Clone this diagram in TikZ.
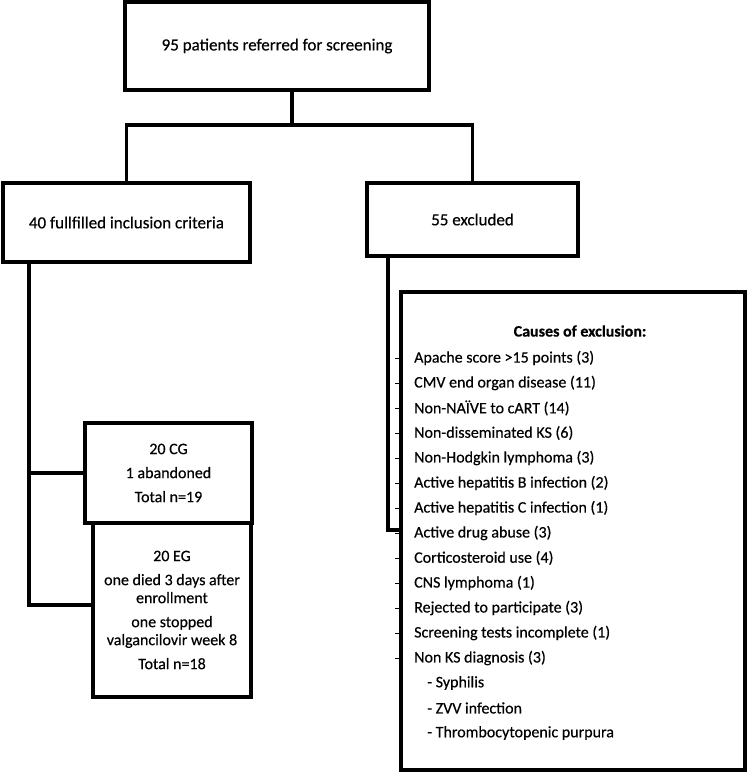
\documentclass[tikz,border=0pt]{standalone}
\usepackage{fontspec}
\setmainfont{Carlito}[FakeBold=0.4]
\usetikzlibrary{positioning}

\begin{document}
\begin{tikzpicture}[x=1pt,y=-1pt,font=\fontsize{17}{19}\selectfont]
    \tikzstyle{box}=[draw,line width=3.5pt,align=center,inner sep=0pt,fill=white]
    \tikzstyle{groupbox}=[box,font=\fontsize{16}{18}\selectfont]
    \tikzstyle{conn}=[draw,line width=3.5pt]
    \tikzstyle{item}=[anchor=west,inner sep=0pt,font=\fontsize{16}{18}\selectfont]
    \tikzstyle{tick}=[draw,line width=1pt]

    \useasboundingbox (0,0) rectangle (750,775);

    % boxes
    \node[box,minimum width=304pt,minimum height=88pt] (top) at (277,46) {95 patients referred for screening};
    \node[box,minimum width=247pt,minimum height=79pt] (incl) at (126.5,222.5) {40 fullfilled inclusion criteria};
    \node[box,minimum width=211pt,minimum height=73pt] (excl) at (472.5,219.5) {55 excluded};
    \node[groupbox,minimum width=167pt,minimum height=100pt] (cg) at (168.5,473) {20 CG\\[6pt] 1 abandoned\\[6pt] Total n=19};
    \node[groupbox,minimum width=158pt,minimum height=174pt] (eg) at (172,610) {20 EG\\[6pt] one died 3 days after\\ enrollment\\[6pt] one stopped\\ valgancilovir week 8\\[6pt] Total n=18};
    \node[box,minimum width=344pt,minimum height=478pt] (causes) at (573,531) {};

    % connectors
    \coordinate (split) at (292,125);
    \coordinate (inclfoot) at (29,605);
    \coordinate (exclfoot) at (388,530);
    \path[conn] (top.south -| split) -- (split);
    \path[conn] (incl.north) |- (split) -| (excl.north);
    \path[conn] (incl.south -| inclfoot) -- (inclfoot) -- (inclfoot -| eg.west);
    \path[conn] (cg.west) -- (cg.west -| inclfoot);
    \path[conn] (excl.south -| exclfoot) |- (exclfoot -| causes.west);

    % causes of exclusion
    \node[font=\fontsize{16}{18}\selectfont\bfseries] (causeshead) at (580,331) {Causes of exclusion:};
    \foreach \txt [count=\i] in {Apache score >15 points (3), CMV end organ disease (11),
        Non-NAÏVE to cART (14), Non-disseminated KS (6), Non-Hodgkin lymphoma (3),
        Active hepatitis B infection (2), Active hepatitis C infection (1), Active drug abuse (3),
        Corticosteroid use (4), CNS lymphoma (1), Rejected to participate (3),
        Screening tests incomplete (1), Non KS diagnosis (3)} {
        \node[item] (cause\i) at (414,{333+25*\i}) {\txt};
        \path[tick] (395,{333+25*\i}) -- (401,{333+25*\i});
    }
    \foreach \txt [count=\i] in {- Syphilis, - ZVV infection, - Thrombocytopenic purpura} {
        \node[item] (nonks\i) at (427,{658+25*\i}) {\txt};
    }
\end{tikzpicture}
\end{document}
